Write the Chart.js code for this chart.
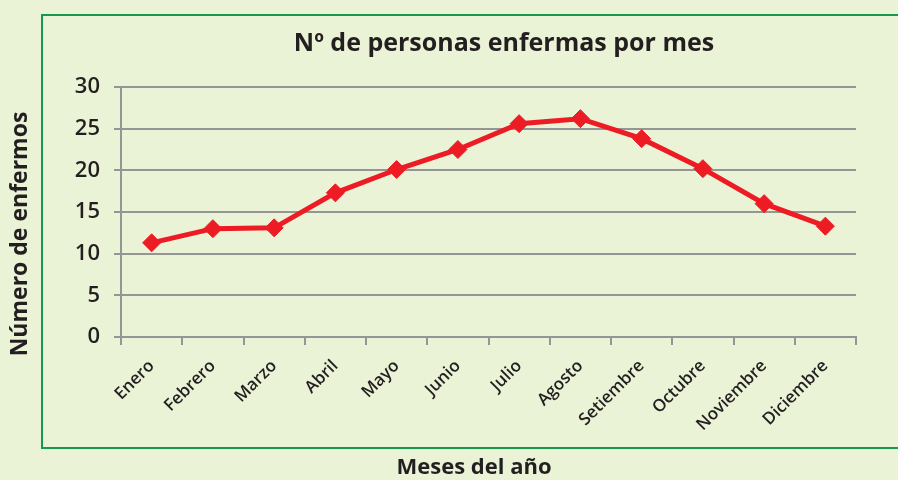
<!DOCTYPE html>
<html lang="es">
<head>
<meta charset="utf-8">
<title>Nº de personas enfermas por mes</title>
<script src="https://cdn.jsdelivr.net/npm/chart.js"></script>
<style>
  html, body { margin: 0; padding: 0; background: #ebf3d7; }
  #grafica { display: block; }
</style>
</head>
<body>
<canvas id="grafica" width="898" height="480"></canvas>
<script>
const meses = ['Enero', 'Febrero', 'Marzo', 'Abril', 'Mayo', 'Junio', 'Julio',
  'Agosto', 'Setiembre', 'Octubre', 'Noviembre', 'Diciembre'];
const enfermos = [11.3, 13.0, 13.1, 17.3, 20.1, 22.5, 25.6, 26.2, 23.8, 20.2, 16.0, 13.3];
const ticksY = [0, 5, 10, 15, 20, 25, 30];

const tituloGrafica = 'Nº de personas enfermas por mes';
const tituloX = 'Meses del año';
const tituloY = 'Número de enfermos';

const fondo = '#ebf3d7';
const verde = '#16994a';
const gris = '#959595';
const rojo = '#ed1c24';
const texto = '#231f20';
const fuente = "'Open Sans', 'DejaVu Sans', sans-serif";

// fondo, marco verde y textos de los títulos
const marcoYTitulos = {
  id: 'marcoYTitulos',
  beforeDraw(chart) {
    const ctx = chart.ctx;
    ctx.save();
    ctx.fillStyle = fondo;
    ctx.fillRect(0, 0, chart.width, chart.height);
    ctx.strokeStyle = verde;
    ctx.lineWidth = 2;
    ctx.strokeRect(42, 15, chart.width, 433);
    ctx.restore();
  },
  afterDraw(chart) {
    const ctx = chart.ctx;
    ctx.save();
    ctx.fillStyle = texto;
    ctx.textAlign = 'center';
    ctx.textBaseline = 'middle';
    ctx.font = 'bold 25px ' + fuente;
    ctx.fillText(tituloGrafica, 504, 44);
    ctx.font = 'bold 22px ' + fuente;
    ctx.fillText(tituloX, 474, 468);
    ctx.translate(20, 234);
    ctx.rotate(-Math.PI / 2);
    ctx.font = 'bold 23px ' + fuente;
    ctx.fillText(tituloY, 0, 0);
    ctx.restore();
  }
};

new Chart(document.getElementById('grafica'), {
  type: 'line',
  data: {
    labels: meses,
    datasets: [{
      data: enfermos,
      borderColor: rojo,
      backgroundColor: rojo,
      borderWidth: 5,
      tension: 0,
      pointStyle: 'rectRot',
      pointRadius: 9,
      pointBorderWidth: 1,
      pointBackgroundColor: rojo,
      pointBorderColor: rojo
    }]
  },
  options: {
    responsive: false,
    animation: false,
    layout: { padding: { top: 87, right: 42, left: 0, bottom: 0 } },
    plugins: {
      legend: { display: false },
      tooltip: { enabled: false }
    },
    scales: {
      x: {
        offset: true,
        afterFit: s => { s.height = 143; },
        grid: { offset: true, drawOnChartArea: false, tickLength: 8, color: gris, lineWidth: 2 },
        border: { color: gris, width: 2 },
        ticks: {
          color: texto,
          font: { family: fuente, size: 17, weight: 600 },
          maxRotation: 45,
          minRotation: 45,
          padding: 11,
          autoSkip: false
        }
      },
      y: {
        min: 0,
        max: 30,
        afterFit: s => { s.width = 121; },
        afterBuildTicks: s => { s.ticks = ticksY.map(v => ({ value: v })); },
        grid: { color: gris, lineWidth: 2, tickLength: 7 },
        border: { color: gris, width: 2 },
        ticks: {
          color: texto,
          font: { family: fuente, size: 22, weight: 600 },
          padding: 14
        }
      }
    }
  },
  plugins: [marcoYTitulos]
});
</script>
</body>
</html>
